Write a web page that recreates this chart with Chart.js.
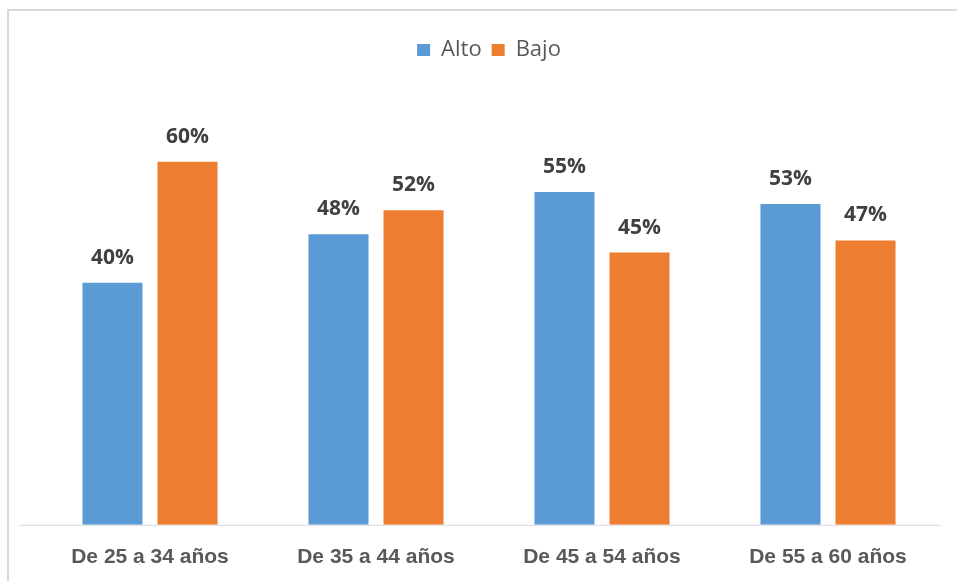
<!DOCTYPE html>
<html>
<head>
<meta charset="utf-8">
<script src="https://cdn.jsdelivr.net/npm/chart.js@4"></script>
<style>
  html, body { margin: 0; padding: 0; background: #fff; }
  #wrap { position: relative; width: 957px; height: 581px; overflow: hidden; }
  #frame { position: absolute; left: 7px; top: 9px; width: 1000px; height: 700px;
           border-left: 2px solid #d9d9d9; border-top: 2px solid #d9d9d9; }
  #chart { position: absolute; left: 0; top: 0; }
</style>
</head>
<body>
<div id="wrap">
  <div id="frame"></div>
  <canvas id="chart" width="957" height="581"></canvas>
</div>
<script>
// Data
const categories = ["De 25 a 34 años", "De 35 a 44 años", "De 45 a 54 años", "De 55 a 60 años"];
const altoValues = [40, 48, 55, 53];
const bajoValues = [60, 52, 45, 47];
const seriesNames = ["Alto", "Bajo"];

// Percent labels above each bar
const barLabels = {
  id: "barLabels",
  afterDatasetsDraw(chart) {
    const ctx = chart.ctx;
    ctx.save();
    ctx.font = "bold 21px 'Open Sans'";
    ctx.fillStyle = "#404040";
    ctx.textAlign = "center";
    ctx.textBaseline = "alphabetic";
    chart.data.datasets.forEach((ds, i) => {
      chart.getDatasetMeta(i).data.forEach((bar, j) => {
        ctx.fillText(ds.data[j] + "%", bar.x, bar.y - 19);
      });
    });
    ctx.restore();
  }
};

// Category axis line, runs a bit further left than the bars area
const axisLine = {
  id: "axisLine",
  beforeDatasetsDraw(chart) {
    const { ctx, chartArea } = chart;
    ctx.save();
    ctx.strokeStyle = "#d9d9d9";
    ctx.lineWidth = 1;
    ctx.beginPath();
    ctx.moveTo(chartArea.left - 17, chartArea.bottom + 0.5);
    ctx.lineTo(chartArea.right - 1, chartArea.bottom + 0.5);
    ctx.stroke();
    ctx.restore();
  }
};

new Chart(document.getElementById("chart"), {
  type: "bar",
  data: {
    labels: categories,
    datasets: [
      { label: seriesNames[0], data: altoValues, backgroundColor: "#5b9bd5" },
      { label: seriesNames[1], data: bajoValues, backgroundColor: "#ed7d31" }
    ]
  },
  options: {
    responsive: false,
    animation: false,
    layout: { padding: { top: 29, left: 37, right: 16, bottom: -9 } },
    datasets: { bar: { categoryPercentage: 0.664, barPercentage: 0.8 } },
    scales: {
      x: {
        grid: { display: false, drawTicks: false },
        border: { display: false },
        ticks: {
          padding: 20,
          color: "#595959",
          font: { family: "'Liberation Sans'", size: 21, weight: "bold" }
        }
      },
      y: { display: false, min: 0, max: 75 }
    },
    plugins: {
      tooltip: { enabled: false },
      legend: {
        position: "top",
        labels: {
          boxWidth: 13,
          boxHeight: 12,
          padding: 10,
          color: "#595959",
          font: { family: "'Open Sans'", size: 22 }
        }
      }
    }
  },
  plugins: [barLabels, axisLine]
});
</script>
</body>
</html>
